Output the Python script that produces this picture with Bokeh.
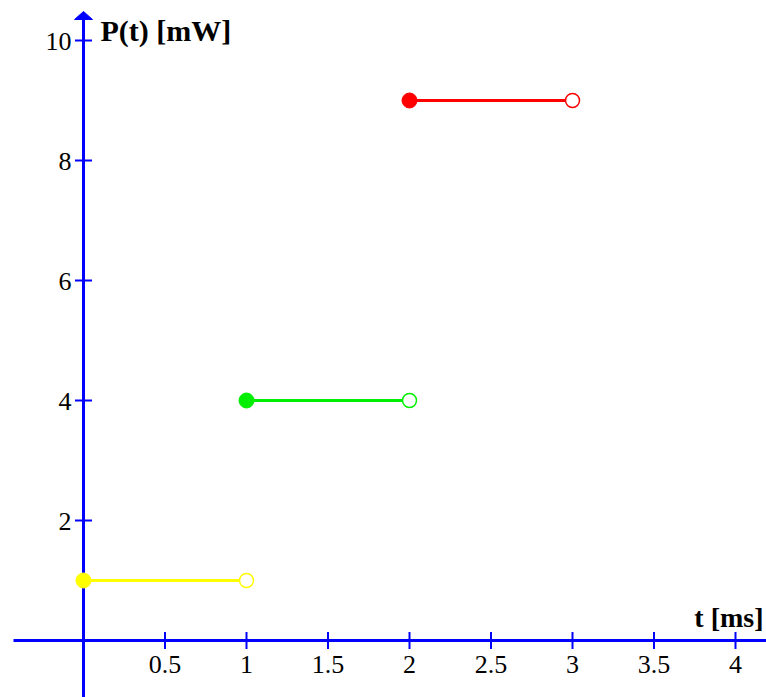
from bokeh.plotting import figure
from bokeh.models import Range1d
from bokeh.core.properties import value
from bokeh.embed import file_html
from bokeh.resources import INLINE

# ---- data ----
t_start = [0, 1, 2]
t_end = [1, 2, 3]
power = [1, 4, 9]
seg_colors = ["#ffff00", "#00ee00", "#ff0000"]
x_ticks = [0.5, 1, 1.5, 2, 2.5, 3, 3.5, 4]
x_tick_labels = ["0.5", "1", "1.5", "2", "2.5", "3", "3.5", "4"]
y_ticks = [2, 4, 6, 8, 10]
y_tick_labels = ["2", "4", "6", "8", "10"]
x_title = "t [ms]"
y_title = "P(t) [mW]"

# ---- layout constants (pixels) ----
W, H = 766, 697
X0_PX, Y0_PX = 83, 640        # pixel position of origin
PX_X, PX_Y = 163.0, 60.0      # pixels per data unit
BLUE = "#0000ff"
FONT = value("Liberation Serif")
TXT_SHIFT = 8                 # compensation for text baseline rendering

def dx(px):
    return px / PX_X

def dy(px):
    return px / PX_Y

x_min, x_max = -dx(X0_PX), dx(W - X0_PX)
y_min, y_max = -dy(H - Y0_PX), dy(Y0_PX)

p = figure(width=W, height=H, output_backend="svg", toolbar_location=None,
           x_range=Range1d(x_min, x_max), y_range=Range1d(y_min, y_max),
           x_axis_type=None, y_axis_type=None, min_border=0)
p.outline_line_color = None
p.background_fill_color = "white"
p.border_fill_color = "white"

# ---- axes ----
arrow_tip = dy(Y0_PX - 11)
arrow_base = dy(Y0_PX - 19)
p.segment(x0=[-dx(70)], y0=[0], x1=[x_max], y1=[0], line_color=BLUE, line_width=3)
p.segment(x0=[0], y0=[y_min], x1=[0], y1=[arrow_base], line_color=BLUE, line_width=3)
p.patch(x=[-dx(9), 0, dx(9)], y=[arrow_base, arrow_tip, arrow_base],
        fill_color=BLUE, line_color=BLUE)

# ticks
p.segment(x0=x_ticks, y0=[-dy(8.5)] * len(x_ticks), x1=x_ticks, y1=[dy(8.5)] * len(x_ticks),
          line_color=BLUE, line_width=2)
p.segment(x0=[-dx(8.5)] * len(y_ticks), y0=y_ticks, x1=[dx(8.5)] * len(y_ticks), y1=y_ticks,
          line_color=BLUE, line_width=2)

# tick labels
p.text(x=x_ticks, y=[-dy(32 - TXT_SHIFT)] * len(x_ticks), text=x_tick_labels,
       text_font=FONT, text_font_size="26px", text_color="black",
       text_align="center", text_baseline="alphabetic")
p.text(x=[-dx(12)] * len(y_ticks), y=[v - dy(9 - TXT_SHIFT) for v in y_ticks], text=y_tick_labels,
       text_font=FONT, text_font_size="26px", text_color="black",
       text_align="right", text_baseline="alphabetic")

# axis titles
p.text(x=[dx(100 - X0_PX)], y=[dy(Y0_PX - 38 + TXT_SHIFT)], text=[y_title],
       text_font=FONT, text_font_size="30px", text_font_style="bold",
       text_color="black", text_align="left", text_baseline="alphabetic")
p.text(x=[dx(763 - X0_PX)], y=[dy(Y0_PX - 625 + TXT_SHIFT)], text=[x_title],
       text_font=FONT, text_font_size="28px", text_font_style="bold",
       text_color="black", text_align="right", text_baseline="alphabetic")

# ---- data marks ----
p.segment(x0=t_start, y0=power, x1=t_end, y1=power, line_color=seg_colors, line_width=3)
p.scatter(x=t_start, y=power, size=15, marker="circle",
          fill_color=seg_colors, line_color=seg_colors)
p.scatter(x=t_end, y=power, size=14, marker="circle",
          fill_color="white", line_color=seg_colors, line_width=1.5)

open("out.html", "w").write(file_html(p, INLINE))
